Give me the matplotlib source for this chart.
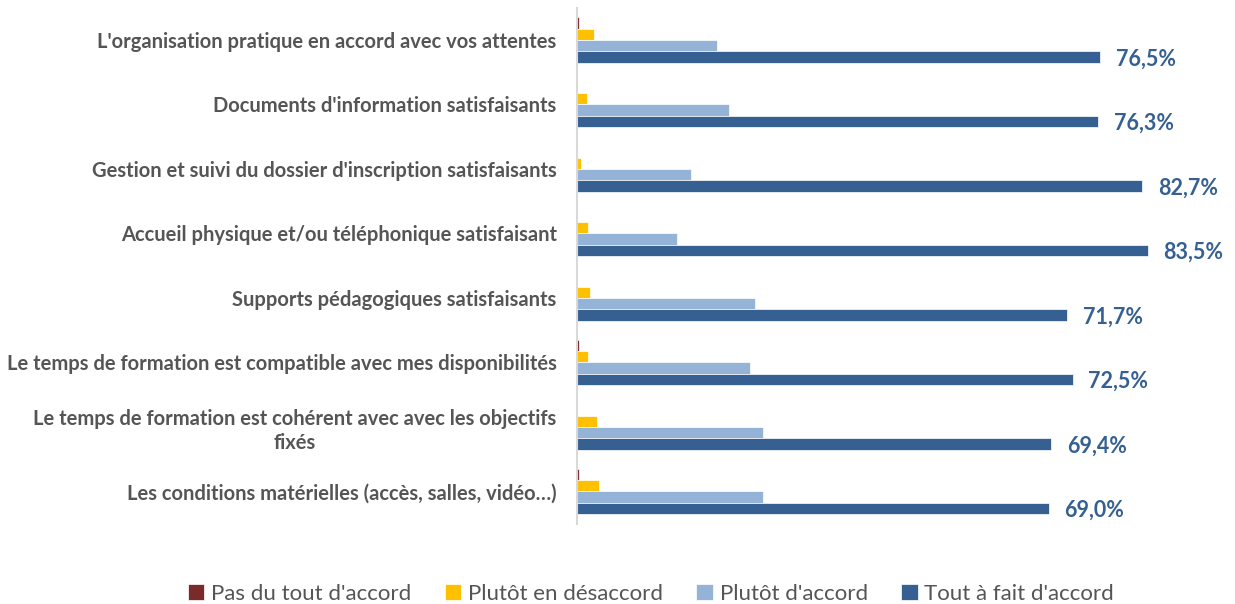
import numpy as np
import matplotlib
matplotlib.use('Agg')
import matplotlib.pyplot as plt

plt.rcParams['font.family'] = ['Lato', 'DejaVu Sans']

categories = [
    "L'organisation pratique en accord avec vos attentes",
    "Documents d'information satisfaisants",
    "Gestion et suivi du dossier d'inscription satisfaisants",
    "Accueil physique et/ou téléphonique satisfaisant",
    "Supports pédagogiques satisfaisants",
    "Le temps de formation est compatible avec mes disponibilités",
    "Le temps de formation est cohérent avec avec les objectifs\nfixés",
    "Les conditions matérielles (accès, salles, vidéo…)",
]

series_names = ["Pas du tout d'accord", "Plutôt en désaccord",
                "Plutôt d'accord", "Tout à fait d'accord"]

pas_du_tout = [0.3, 0.0, 0.0, 0.0, 0.1, 0.3, 0.1, 0.3]
desaccord = [2.5, 1.5, 0.6, 1.7, 1.9, 1.6, 2.9, 3.2]
plutot_accord = [20.5, 22.2, 16.7, 14.7, 26.1, 25.4, 27.3, 27.3]
tout_a_fait = [76.5, 76.3, 82.7, 83.5, 71.7, 72.5, 69.4, 69.0]

COLORS = ['#7B2A2A', '#FFC000', '#95B3D7', '#366092']
LABEL_GRAY = '#555555'
VALUE_BLUE = '#366092'

fig = plt.figure(figsize=(12.35, 6.04), dpi=100)
ax = fig.add_axes([0.467, 0.1329, 0.526, 0.8543])

y = np.arange(len(categories))
h = 0.175
all_series = [pas_du_tout, desaccord, plutot_accord, tout_a_fait]
for j, (vals, col, name) in enumerate(zip(all_series, COLORS, series_names)):
    ax.barh(y + (j - 1.5) * h, vals, height=h, color=col, label=name,
            edgecolor='white', linewidth=0.5)

# value labels on the "Tout à fait d'accord" bars
for yi, v in zip(y, tout_a_fait):
    ax.text(v + 2.3, yi + 1.5 * h + 0.03, f"{v:.1f}%".replace('.', ','),
            ha='left', va='center', color=VALUE_BLUE, fontsize=15.5,
            fontweight='bold')

ax.set_xlim(0, 95)
ax.set_ylim(len(categories) - 0.5, -0.5)
ax.set_yticks(y)
ax.set_yticklabels(categories, fontsize=14.5, fontweight='bold',
                   color=LABEL_GRAY, multialignment='center',
                   linespacing=1.25)
ax.tick_params(axis='y', length=0, pad=14.4)
ax.set_xticks([])
for s in ['top', 'right', 'bottom']:
    ax.spines[s].set_visible(False)
ax.spines['left'].set_color('#d9d9d9')
ax.spines['left'].set_linewidth(1.5)

fig.legend(loc='lower center', bbox_to_anchor=(0.527, -0.033), ncol=4,
           frameon=False, fontsize=16, handlelength=0.75, handleheight=0.75,
           handletextpad=0.3, columnspacing=1.5, labelcolor=LABEL_GRAY)

fig.savefig('out.png', dpi=100)
